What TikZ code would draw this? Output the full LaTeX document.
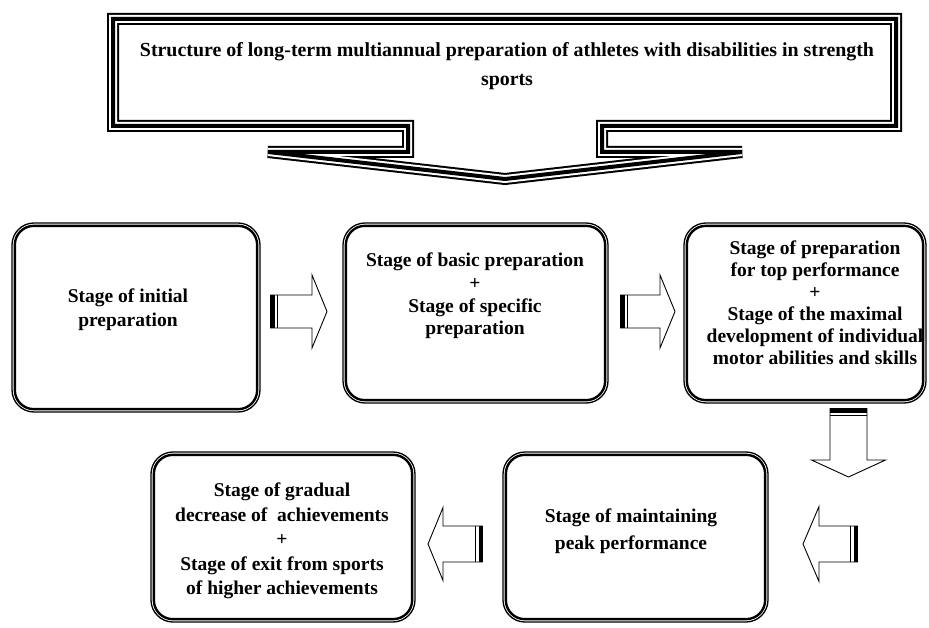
\documentclass[tikz,border=0pt]{standalone}
\usepackage{fontspec}
\setmainfont{Liberation Serif}
\newcommand\myblockarrow[7]{%
  \begin{scope}[shift={(#1,#2)}, rotate=#3]
    \draw[line width=0.9pt, fill=white, line join=miter] (0,-#6) -- (#4,-#6) -- (#4,-#7) -- ({#4+#5},0) -- (#4,#7) -- (#4,#6) -- (0,#6);
    \fill (0,-#6) rectangle (4.5,#6);
    \draw[line width=1.2pt] (7.5,-#6) -- (7.5,#6);
  \end{scope}}
\begin{document}
\begin{tikzpicture}[x=1pt,y=-1pt,
  stagebox/.style={draw, line width=1.3pt, rounded corners=22pt, inner sep=0pt},
  stagetext/.style={inner sep=0pt, align=center},
  bannerpath/.style={line join=miter, miter limit=4}]
\useasboundingbox (0,0) rectangle (929,628);
% banner
\def\bannershape{(113,19) -- (896,19) -- (896,126) -- (602,126) -- (602,152) -- (742,152) -- (505,179) -- (268,152) -- (408,152) -- (408,126) -- (113,126) -- cycle}
\draw[bannerpath, line width=12pt] \bannershape;
\draw[bannerpath, white, line width=8pt] \bannershape;
\draw[bannerpath, line width=4pt] \bannershape;
\node[stagetext, font=\bfseries\fontsize{19.9}{29}\selectfont] (title) at (507,66)
  {Structure of long-term multiannual preparation of athletes with disabilities in strength\\ sports};
% boxes
\node[stagebox, minimum width=248pt, minimum height=189pt] (n1) at (136,317.5) {};
\node[stagebox, minimum width=265pt, minimum height=180pt] (n2) at (475.5,313) {};
\node[stagebox, minimum width=242pt, minimum height=180pt] (n3) at (805,313) {};
\node[stagebox, minimum width=264pt, minimum height=170pt] (n4) at (283,537) {};
\node[stagebox, minimum width=265pt, minimum height=170pt] (n5) at (635.5,537) {};
\foreach \n in {n1,n2,n3,n4,n5}{
  \draw[line width=2.4pt, rounded corners=19pt] ([shift={(3.5,3.5)}]\n.north west) rectangle ([shift={(-3.5,-3.5)}]\n.south east);
}
% texts
\node[stagetext, font=\bfseries\fontsize{19.5}{24}\selectfont] (t1) at (128,310) {Stage of initial\\ preparation};
\node[stagetext, font=\bfseries\fontsize{19.5}{22.7}\selectfont] (t2) at (475,296) {Stage of basic preparation\\ +\\ Stage of specific\\ preparation};
\node[stagetext, font=\bfseries\fontsize{19.5}{22}\selectfont] (t3) at (815,303) {Stage of preparation\\ for top performance\\ +\\ Stage of the maximal\\ development of individual\\ motor abilities and skills};
\node[stagetext, font=\bfseries\fontsize{19.5}{24.5}\selectfont] (t4) at (282,541) {Stage of gradual\\ decrease of~ achievements\\ +\\ Stage of exit from sports\\ of higher achievements};
\node[stagetext, font=\bfseries\fontsize{19.5}{27}\selectfont] (t5) at (631,531.5) {Stage of maintaining\\ peak performance};
% block arrows
\myblockarrow{270}{311.5}{0}{42}{15}{16.5}{36.5}
\myblockarrow{620}{311.5}{0}{40}{15}{16.5}{36.5}
\myblockarrow{848.5}{408}{-90}{52}{17}{18.5}{37}
\myblockarrow{858}{544}{180}{39}{16}{18}{37.5}
\myblockarrow{483}{544}{180}{40}{15}{18}{36.5}
\end{tikzpicture}
\end{document}
